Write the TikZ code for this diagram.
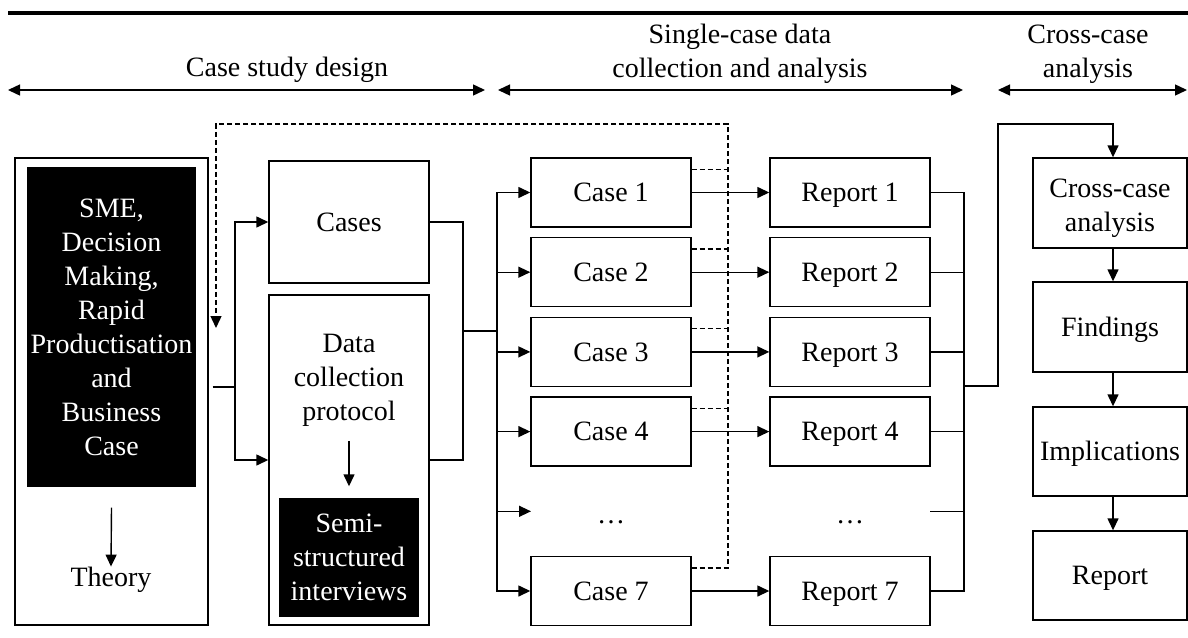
\documentclass[tikz,border=0pt]{standalone}
\usepackage{fontspec}
\setmainfont{Liberation Serif}
\usetikzlibrary{arrows.meta}

\tikzset{
  txt/.style={font=\fontsize{14pt}{17pt}\selectfont, align=center, inner sep=0pt},
  box/.style={txt, draw, minimum width=80pt, minimum height=34.5pt},
  oneline/.style={text height=9.3pt, text depth=0pt},
  blackbox/.style={txt, fill=black, text=white},
  arr/.style={-{Triangle[length=6pt,width=5.5pt]}},
  span/.style={{Triangle[length=6pt,width=5.5pt]}-{Triangle[length=6pt,width=5.5pt]}},
  fback/.style={dash pattern=on 2.4pt off 1.6pt},
}

\begin{document}
\begin{tikzpicture}[x=0.5pt, y=-0.5pt, line width=0.7pt]
    \useasboundingbox (0,0) rectangle (1188,637);

    % Phase headers
    \coordinate (rulel) at (8,13);
    \coordinate (ruler) at (1188,13);
    \draw[line width=2pt] (rulel) -- (ruler);
    \coordinate (d1) at (8,90);
    \coordinate (d2) at (485,90);
    \coordinate (s1) at (498,90);
    \coordinate (s2) at (963,90);
    \coordinate (x1) at (998,90);
    \coordinate (x2) at (1187,90);
    \draw[span] (d1) -- (d2);
    \draw[span] (s1) -- (s2);
    \draw[span] (x1) -- (x2);
    \node[txt] (hdesign) at (287,70) {Case study design};
    \node[txt] (hsingle) at (740,54) {Single-case data\\collection and analysis};
    \node[txt] (hcross) at (1088,54) {Cross-case\\analysis};

    % Theory column
    \node[box, minimum width=96.5pt, minimum height=233.5pt] (theorybox) at (111.5,391.5) {};
    \node[blackbox, minimum width=84.5pt, minimum height=160pt] (sme) at (111.5,327)
        {SME,\\Decision\\Making,\\Rapid\\Productisation\\and\\Business\\Case};
    \node[txt] (theory) at (111,580) {Theory};
    \draw[arr] ([yshift=-10pt]sme.south) -- (theory.north);

    % Cases and protocol
    \node[box, oneline, minimum height=61pt] (cases) at (349,222) {Cases};
    \node[box, minimum height=165pt] (dcp) at (349,460) {};
    \node[txt] (dcptext) at (349,380) {Data\\collection\\protocol};
    \node[blackbox, minimum width=70pt, minimum height=59.5pt] (semi) at (349,557.5)
        {Semi-\\structured\\interviews};
    \draw[arr, shorten <=7pt, shorten >=5.5pt] (dcptext.south) -- (semi.north);

    \coordinate (tsplit) at (235,387);
    \draw ([xshift=2pt]theorybox.east |- tsplit) -- (tsplit);
    \draw[arr] (tsplit) |- (cases.west);
    \draw[arr] (tsplit) |- (dcp.west);

    % Single cases
    \node[box, oneline] (case1) at (611,192.5) {Case 1};
    \node[box, oneline] (case2) at (611,272.2) {Case 2};
    \node[box, oneline] (case3) at (611,351.9) {Case 3};
    \node[box, oneline] (case4) at (611,431.6) {Case 4};
    \node[txt] (cdots) at (611,522) {\dots};
    \node[box, oneline] (case7) at (611,591) {Case 7};
    \coordinate (cdotsin) at (531,511.3);

    \coordinate (cjoin) at (463,331);
    \coordinate (cbus) at (497,331);
    \draw (cases.east) -| (cjoin);
    \draw (dcp.east) -| (cjoin);
    \draw (cjoin) -- (cbus);
    \draw[arr] (cbus) |- (case1.west);
    \draw[arr] (cbus) |- (case2.west);
    \draw[arr] (cbus) |- (case3.west);
    \draw[arr] (cbus) |- (case4.west);
    \draw[arr] (cbus) |- (cdotsin);
    \draw[arr] (cbus) |- (case7.west);

    % Reports
    \node[box, oneline] (report1) at (850,192.5) {Report 1};
    \node[box, oneline] (report2) at (850,272.2) {Report 2};
    \node[box, oneline] (report3) at (850,351.9) {Report 3};
    \node[box, oneline] (report4) at (850,431.6) {Report 4};
    \node[txt] (rdots) at (850,522) {\dots};
    \node[box, oneline] (report7) at (850,591) {Report 7};
    \coordinate (rdotsout) at (930,511.3);

    \draw[arr] (case1.east) -- (report1.west);
    \draw[arr] (case2.east) -- (report2.west);
    \draw[arr] (case3.east) -- (report3.west);
    \draw[arr] (case4.east) -- (report4.west);
    \draw[arr] (case7.east) -- (report7.west);

    % Feedback from the cases to theory
    \coordinate (fbcorner) at (728,124);
    \coordinate (fbleft) at (216,124);
    \coordinate (fbtip) at (216,328);
    \draw[fback, arr] ([yshift=-6pt]case7.north east) -| (fbcorner) -- (fbleft) -- (fbtip);
    \draw[fback] ([yshift=-6pt]case1.north east) -- ([yshift=-6pt]fbcorner |- case1.north east);
    \draw[fback] ([yshift=-6pt]case2.north east) -- ([yshift=-6pt]fbcorner |- case2.north east);
    \draw[fback] ([yshift=-6pt]case3.north east) -- ([yshift=-6pt]fbcorner |- case3.north east);
    \draw[fback] ([yshift=-6pt]case4.north east) -- ([yshift=-6pt]fbcorner |- case4.north east);

    % Reports into cross-case analysis
    \coordinate (rbus) at (964,386);
    \draw (report1.east) -| (rbus);
    \draw (report2.east) -| (rbus);
    \draw (report3.east) -| (rbus);
    \draw (report4.east) -| (rbus);
    \draw (rdotsout) -| (rbus);
    \draw (report7.east) -| (rbus);

    \node[box, minimum width=77pt, minimum height=45pt] (cross) at (1110,203) {};
    \node[txt] (crosstext) at (1110,208) {Cross-case\\analysis};
    \node[box, oneline, minimum width=77pt, minimum height=45pt] (findings) at (1110,327) {Findings};
    \node[box, oneline, minimum width=77pt, minimum height=44.5pt] (implications) at (1110,451.5) {Implications};
    \node[box, oneline, minimum width=77pt, minimum height=44.5pt] (finalreport) at (1110,575.5) {Report};

    \coordinate (rup) at (998,124);
    \draw[arr] (rbus) -| (rup) -| ([xshift=1.5pt]cross.north);
    \draw[arr] ([xshift=1.5pt]cross.south) -- ([xshift=1.5pt]findings.north);
    \draw[arr] ([xshift=1.5pt]findings.south) -- ([xshift=1.5pt]implications.north);
    \draw[arr] ([xshift=1.5pt]implications.south) -- ([xshift=1.5pt]finalreport.north);
\end{tikzpicture}
\end{document}
